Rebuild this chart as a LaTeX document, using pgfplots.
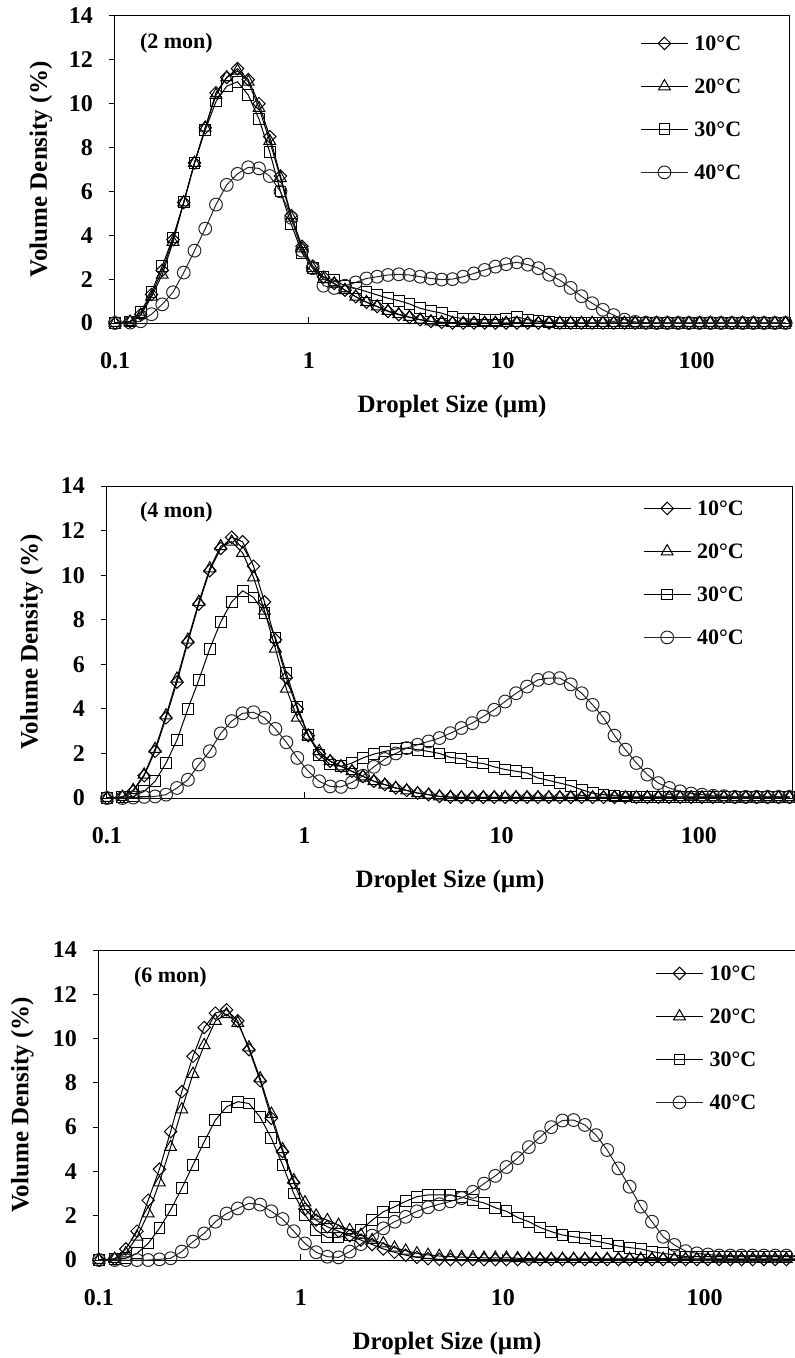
\documentclass[border=0pt]{standalone}
\usepackage{fontspec}
\setmainfont{Liberation Serif}
\usepackage{pgfplots}
\pgfplotsset{compat=1.18}
\usepackage{pgfplotstable}

\newcommand\tickfont{\bfseries\fontsize{12}{14}\selectfont}
\newcommand\labfont{\bfseries\fontsize{12.5}{15}\selectfont}
\newcommand\legfont{\bfseries\fontsize{11}{13}\selectfont}

% droplet size distributions, columns: size, 10C, 20C, 30C, 40C
\pgfplotstableread{
x a b c d
0.1 0 0 0 0
0.1196 0.07 0.05 0.07 0.02
0.1358 0.40 0.35 0.50 0.08
0.1543 1.30 1.20 1.40 0.40
0.1753 2.40 2.20 2.60 0.85
0.1992 3.80 3.70 3.90 1.40
0.2263 5.50 5.50 5.50 2.30
0.2571 7.30 7.30 7.30 3.30
0.2921 8.90 8.90 8.80 4.30
0.3319 10.5 10.4 10.1 5.40
0.3771 11.2 11.2 10.8 6.30
0.4285 11.6 11.5 11.0 6.80
0.4868 11.1 11.0 10.4 7.10
0.5531 10.0 9.80 9.30 7.05
0.6284 8.50 8.30 7.80 6.70
0.7140 6.70 6.60 6.00 6.00
0.8112 4.90 4.80 4.50 4.80
0.9218 3.50 3.40 3.20 3.30
1.047 2.60 2.50 2.50 2.50
1.190 2.10 2.00 2.10 1.70
1.352 1.80 1.80 1.95 1.60
1.536 1.50 1.50 1.70 1.70
1.745 1.20 1.20 1.58 1.85
1.983 0.95 0.95 1.43 2.03
2.253 0.75 0.75 1.28 2.11
2.560 0.53 0.55 1.13 2.19
2.908 0.38 0.40 1.02 2.22
3.304 0.26 0.27 0.87 2.19
3.754 0.15 0.15 0.67 2.11
4.265 0.07 0.07 0.55 2.03
4.846 0.03 0.03 0.45 1.98
5.506 0 0 0.28 2.00
6.256 0 0 0.20 2.11
7.108 0 0 0.17 2.26
8.076 0 0 0.15 2.42
9.175 0 0 0.15 2.57
10.42 0 0 0.18 2.68
11.84 0 0 0.28 2.77
13.46 0 0 0.15 2.66
15.29 0 0 0.08 2.50
17.37 0 0 0.03 2.20
19.74 0 0 0 1.95
22.42 0 0 0 1.60
25.48 0 0 0 1.22
28.95 0 0 0 0.90
32.89 0 0 0 0.60
37.37 0 0 0 0.36
42.46 0 0 0 0.15
48.24 0 0 0 0.05
54.81 0 0 0 0.01
62.27 0 0 0 0
70.75 0 0 0 0
80.38 0 0 0 0
91.33 0 0 0 0
103.7 0 0 0 0
117.9 0 0 0 0
133.9 0 0 0 0
152.2 0 0 0 0
172.9 0 0 0 0
196.4 0 0 0 0
223.2 0 0 0 0
253.6 0 0 0 0
288.1 0 0 0 0
}\tabA

\pgfplotstableread{
x a b c d
0.1 0 0 0 0
0.1196 0.05 0.05 0.03 0
0.1358 0.30 0.35 0.07 0.02
0.1543 1.00 1.05 0.30 0.05
0.1753 2.10 2.20 0.75 0.07
0.1992 3.60 3.70 1.57 0.15
0.2263 5.20 5.35 2.60 0.45
0.2571 7.00 7.10 4.00 0.82
0.2921 8.70 8.80 5.30 1.50
0.3319 10.2 10.3 6.70 2.10
0.3771 11.2 11.3 7.90 2.90
0.4285 11.7 11.5 8.80 3.45
0.4868 11.5 11.0 9.30 3.80
0.5531 10.4 9.90 9.00 3.85
0.6284 8.80 8.40 8.30 3.60
0.7140 7.10 6.70 7.20 3.10
0.8112 5.40 4.90 5.60 2.50
0.9218 4.00 3.60 4.10 1.80
1.047 2.80 2.80 2.84 1.20
1.190 2.00 2.10 1.94 0.75
1.352 1.65 1.65 1.50 0.52
1.536 1.42 1.42 1.42 0.50
1.745 1.20 1.20 1.57 0.70
1.983 0.97 0.97 1.80 1.00
2.253 0.75 0.75 1.97 1.40
2.560 0.60 0.60 2.09 1.75
2.908 0.45 0.45 2.20 2.00
3.304 0.34 0.34 2.24 2.24
3.754 0.22 0.22 2.17 2.39
4.265 0.15 0.15 2.09 2.54
4.846 0.07 0.07 2.00 2.69
5.506 0.04 0.04 1.82 2.91
6.256 0.03 0.03 1.77 3.14
7.108 0.03 0.03 1.60 3.36
8.076 0.03 0.03 1.55 3.66
9.175 0.03 0.03 1.40 3.96
10.42 0.03 0.03 1.28 4.33
11.84 0.03 0.03 1.20 4.70
13.46 0.03 0.03 1.12 5.00
15.29 0.03 0.03 0.90 5.30
17.37 0.03 0.03 0.79 5.38
19.74 0.03 0.03 0.67 5.38
22.42 0.03 0.03 0.55 5.10
25.48 0.03 0.03 0.37 4.70
28.95 0.03 0.03 0.22 4.18
32.89 0.03 0.03 0.15 3.60
37.37 0.03 0.03 0.10 2.80
42.46 0.03 0.03 0.07 2.17
48.24 0.03 0.03 0.05 1.57
54.81 0.03 0.03 0.05 1.05
62.27 0.03 0.03 0.05 0.67
70.75 0.03 0.03 0.05 0.45
80.38 0.03 0.03 0.05 0.30
91.33 0.03 0.03 0.05 0.20
103.7 0.03 0.03 0.05 0.15
117.9 0.03 0.03 0.05 0.10
133.9 0.03 0.03 0.05 0.08
152.2 0.03 0.03 0.05 0.05
172.9 0.03 0.03 0.05 0.05
196.4 0.03 0.03 0.05 0.05
223.2 0.03 0.03 0.05 0.05
253.6 0.03 0.03 0.05 0.05
288.1 0.03 0.03 0.05 0.05
}\tabB

\pgfplotstableread{
x a b c d
0.1 0 0 0 0
0.1196 0.05 0.05 0.03 0
0.1358 0.50 0.30 0.08 0
0.1543 1.30 1.05 0.30 0
0.1753 2.70 2.10 0.75 0
0.1992 4.10 3.50 1.43 0.03
0.2263 5.80 5.10 2.26 0.08
0.2571 7.60 6.80 3.24 0.38
0.2921 9.20 8.40 4.29 0.83
0.3319 10.5 9.70 5.34 1.20
0.3771 11.15 10.8 6.32 1.73
0.4285 11.3 11.1 6.92 2.10
0.4868 10.8 10.7 7.15 2.33
0.5531 9.50 9.60 7.07 2.56
0.6284 8.10 8.20 6.45 2.50
0.7140 6.40 6.60 5.50 2.20
0.8112 4.90 5.00 4.30 1.85
0.9218 3.50 3.60 3.00 1.30
1.047 2.30 2.60 2.05 0.75
1.190 1.80 2.00 1.35 0.35
1.352 1.50 1.80 1.02 0.15
1.536 1.30 1.58 1.02 0.12
1.745 1.10 1.35 1.13 0.38
1.983 0.90 1.13 1.35 0.72
2.253 0.70 0.90 1.80 1.10
2.560 0.50 0.75 2.18 1.43
2.908 0.35 0.55 2.40 1.73
3.304 0.22 0.42 2.65 1.95
3.754 0.12 0.30 2.86 2.20
4.265 0.06 0.23 2.94 2.38
4.846 0.03 0.18 2.94 2.52
5.506 0.02 0.15 2.94 2.65
6.256 0.02 0.13 2.84 2.80
7.108 0.02 0.12 2.70 3.08
8.076 0.02 0.10 2.58 3.45
9.175 0.02 0.10 2.36 3.80
10.42 0.02 0.10 2.20 4.20
11.84 0.02 0.08 1.92 4.60
13.46 0.02 0.06 1.73 5.10
15.29 0.02 0.05 1.47 5.55
17.37 0.02 0.05 1.28 6.00
19.74 0.02 0.05 1.13 6.30
22.42 0.02 0.05 1.05 6.32
25.48 0.02 0.05 0.98 6.10
28.95 0.02 0.05 0.85 5.64
32.89 0.02 0.05 0.75 4.97
37.37 0.02 0.05 0.63 4.14
42.46 0.02 0.05 0.56 3.31
48.24 0.02 0.05 0.50 2.41
54.81 0.02 0.05 0.38 1.73
62.27 0.02 0.05 0.30 1.05
70.75 0.02 0.05 0.23 0.68
80.38 0.02 0.05 0.15 0.40
91.33 0.02 0.05 0.15 0.30
103.7 0.02 0.05 0.15 0.25
117.9 0.02 0.05 0.15 0.20
133.9 0.02 0.05 0.15 0.20
152.2 0.02 0.05 0.15 0.20
172.9 0.02 0.05 0.15 0.20
196.4 0.02 0.05 0.15 0.20
223.2 0.02 0.05 0.15 0.20
253.6 0.02 0.05 0.15 0.20
288.1 0.02 0.05 0.15 0.20
}\tabC

\pgfplotsset{
  every axis/.append style={
    scale only axis,
    xmin=0.1, ymin=0, ymax=14,
    xtick={0.1,1,10,100}, xticklabels={0.1,1,10,100},
    ytick={0,2,4,6,8,10,12,14}, yticklabels={0,2,4,6,8,10,12,14},
    xminorticks=false, yminorticks=false,
    tick pos=left,
    tick align=inside,
    major tick length=3pt,
    ytick style={xshift=-3pt},
    axis line style={line width=0.5pt},
    tick style={black, line width=0.5pt},
    tick label style={font=\tickfont},
    xticklabel style={anchor=center, yshift=-18.75pt},
    yticklabel style={anchor=east, xshift=-7.5pt},
    xlabel={Droplet Size (µm)},
    ylabel={Volume Density (\%)},
    label style={font=\labfont},
    xlabel style={at={(axis description cs:0.5,0)}, anchor=center, yshift=-41.5pt},
    ylabel style={at={(axis description cs:-0.11,0.5)}, anchor=center},
    legend style={draw=none, fill=none, anchor=north west, font=\legfont,
      inner sep=0pt, row sep=14pt, column sep=3pt,
      nodes={inner sep=0pt, text height=7.5pt, text depth=0pt}},
    legend cell align=left,
  },
  legend image code/.code={
    \draw[mark repeat=2, mark phase=2, #1] plot coordinates {(0pt,0pt) (11.75pt,0pt) (23.5pt,0pt)};
  },
}
\tikzset{
  s10/.style={black, line width=0.5pt, mark=square, mark size=2.2pt, mark options={solid, rotate=45, line width=0.5pt}},
  s20/.style={black, line width=0.5pt, mark=triangle, mark size=3.4pt, mark options={solid, line width=0.5pt}},
  s30/.style={black, line width=0.5pt, mark=square, mark size=2.7pt, mark options={solid, line width=0.5pt}},
  s40/.style={black!85, line width=0.5pt, mark=o, mark size=3.2pt, mark options={solid, line width=0.5pt}},
}

\begin{document}
\begin{tikzpicture}
\path[use as bounding box] (0,0) rectangle (397.5pt,-679pt);

% 2 months
\begin{semilogxaxis}[at={(57.5pt,-8pt)}, anchor=north west,
    width=337pt, height=153.5pt, xmax=300,
    legend style={at={(0.779,0.9365)}}]
  \addplot[s10] table[x=x, y=a] {\tabA};
  \addplot[s20] table[x=x, y=b] {\tabA};
  \addplot[s30] table[x=x, y=c] {\tabA};
  \addplot[s40] table[x=x, y=d] {\tabA};
  \legend{10°C, 20°C, 30°C, 40°C}
  \node[anchor=west, font=\legfont] at ([xshift=9pt, yshift=-13.5pt]rel axis cs:0,1) {(2 mon)};
\end{semilogxaxis}

% 4 months
\begin{semilogxaxis}[at={(53.5pt,-243pt)}, anchor=north west,
    width=343pt, height=156pt, xmax=300,
    legend style={at={(0.781,0.9535)}}]
  \addplot[s10] table[x=x, y=a] {\tabB};
  \addplot[s20] table[x=x, y=b] {\tabB};
  \addplot[s30] table[x=x, y=c] {\tabB};
  \addplot[s40] table[x=x, y=d] {\tabB};
  \legend{10°C, 20°C, 30°C, 40°C}
  \node[anchor=west, font=\legfont] at ([xshift=13pt, yshift=-13pt]rel axis cs:0,1) {(4 mon)};
\end{semilogxaxis}

% 6 months
\begin{semilogxaxis}[at={(49.5pt,-475pt)}, anchor=north west,
    width=348pt, height=155pt, xmax=280,
    legend style={at={(0.799,0.95)}}]
  \addplot[s10] table[x=x, y=a] {\tabC};
  \addplot[s20] table[x=x, y=b] {\tabC};
  \addplot[s30] table[x=x, y=c] {\tabC};
  \addplot[s40] table[x=x, y=d] {\tabC};
  \legend{10°C, 20°C, 30°C, 40°C}
  \node[anchor=west, font=\legfont] at ([xshift=14pt, yshift=-13.5pt]rel axis cs:0,1) {(6 mon)};
\end{semilogxaxis}
\end{tikzpicture}
\end{document}
